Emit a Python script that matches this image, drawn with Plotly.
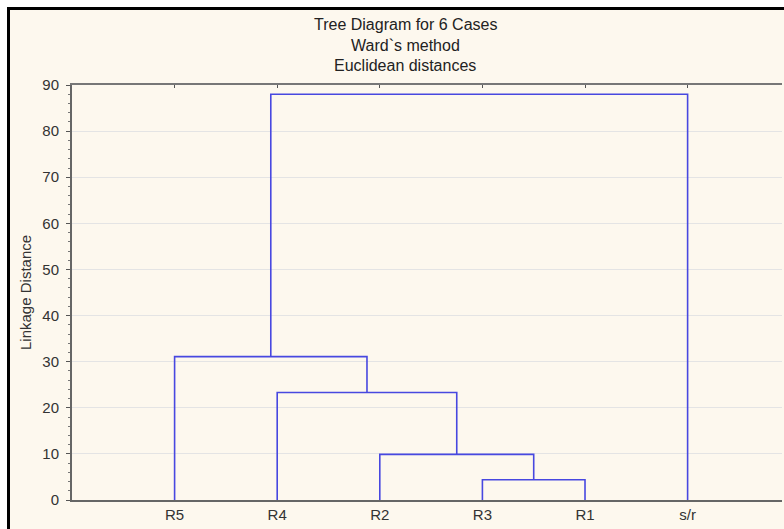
import plotly.graph_objects as go

# ---- data ----
leaves = ["R5", "R4", "R2", "R3", "R1", "s/r"]
# merges: (left cluster, right cluster, linkage distance); clusters referenced by leaf name or merge index "m#"
merge_left = ["R3", "R2", "R4", "R5", "m3"]
merge_right = ["R1", "m0", "m1", "m2", "s/r"]
merge_height = [4.4, 9.9, 23.3, 31.1, 88.0]
y_ticks = [0, 10, 20, 30, 40, 50, 60, 70, 80, 90]

title_lines = ["Tree Diagram for 6 Cases", "Ward`s method", "Euclidean distances"]
y_title = "Linkage Distance"

# ---- layout constants ----
W, H = 784, 529
ML, MR, MT, MB = 72, 2, 85, 29
PW, PH = W - ML - MR, H - MT - MB
X_MAX = 6.92
LINE_COLOR = "#4848e0"
FONT = "Liberation Sans, Arial, sans-serif"

pos = {name: i + 1 for i, name in enumerate(leaves)}
hgt = {name: 0.0 for name in leaves}

fig = go.Figure()
for k, (a, b, h) in enumerate(zip(merge_left, merge_right, merge_height)):
    xa, xb = pos[a], pos[b]
    ya, yb = hgt[a], hgt[b]
    fig.add_trace(go.Scatter(
        x=[xa, xa, xb, xb], y=[ya, h, h, yb], mode="lines",
        line=dict(color=LINE_COLOR, width=1.6), hoverinfo="skip", showlegend=False))
    pos["m%d" % k] = (xa + xb) / 2
    hgt["m%d" % k] = h

# dummy trace for top axis ticks
fig.add_trace(go.Scatter(x=[None], y=[None], xaxis="x2", showlegend=False))

def px_to_paper_x(px):
    return (px - ML) / PW

def px_to_paper_y(py):
    return (H - MB - py) / PH

def rect(x0, y0, x1, y1, color):
    fig.add_shape(type="rect", xref="paper", yref="paper",
                  x0=px_to_paper_x(x0), x1=px_to_paper_x(x1),
                  y0=px_to_paper_y(y1), y1=px_to_paper_y(y0),
                  fillcolor=color, line_width=0, layer="below")

# cream panel with black top/left frame
rect(10, 10, W, H, "#fdf8ee")
rect(7, 7, 10, H, "black")
rect(7, 7, W, 10, "black")

# title lines
for i, t in enumerate(title_lines):
    fig.add_annotation(text=t, xref="paper", yref="paper",
                       x=px_to_paper_x(405), y=px_to_paper_y(25 + i * 20.5),
                       xanchor="center", yanchor="middle", showarrow=False,
                       font=dict(family=FONT, size=16, color="#222"))

fig.add_annotation(text=y_title, xref="paper", yref="paper",
                   x=px_to_paper_x(25), y=px_to_paper_y(293),
                   xanchor="center", yanchor="middle", showarrow=False,
                   textangle=-90, font=dict(family=FONT, size=15, color="#333"))

fig.update_layout(
    width=W, height=H,
    margin=dict(l=ML, r=MR, t=MT, b=MB, pad=0),
    paper_bgcolor="white", plot_bgcolor="white",
    font=dict(family=FONT, size=15, color="#333"),
    xaxis=dict(range=[0, X_MAX], tickvals=list(range(1, len(leaves) + 1)), ticktext=leaves,
               showgrid=False, zeroline=False, showline=True, linecolor="#666", linewidth=2,
               ticks="", tickfont=dict(size=15, color="#333")),
    xaxis2=dict(range=[0, X_MAX], overlaying="x", side="top", matches="x",
                tickvals=list(range(1, len(leaves) + 1)), showticklabels=False,
                showgrid=False, zeroline=False, showline=True, linecolor="#777", linewidth=1.5,
                ticks="inside", ticklen=3, tickcolor="#555"),
    yaxis=dict(range=[0, 90], tickvals=y_ticks, showgrid=True, gridcolor="#e4e4e4", gridwidth=1,
               zeroline=False, showline=True, linecolor="#666", linewidth=2,
               ticks="outside", ticklen=4, tickcolor="#555", ticklabelstandoff=4,
               tickfont=dict(size=15, color="#333"),
               minor=dict(dtick=2, ticks="outside", ticklen=2, tickcolor="#777", showgrid=False)),
)

fig.write_html("out.html")
